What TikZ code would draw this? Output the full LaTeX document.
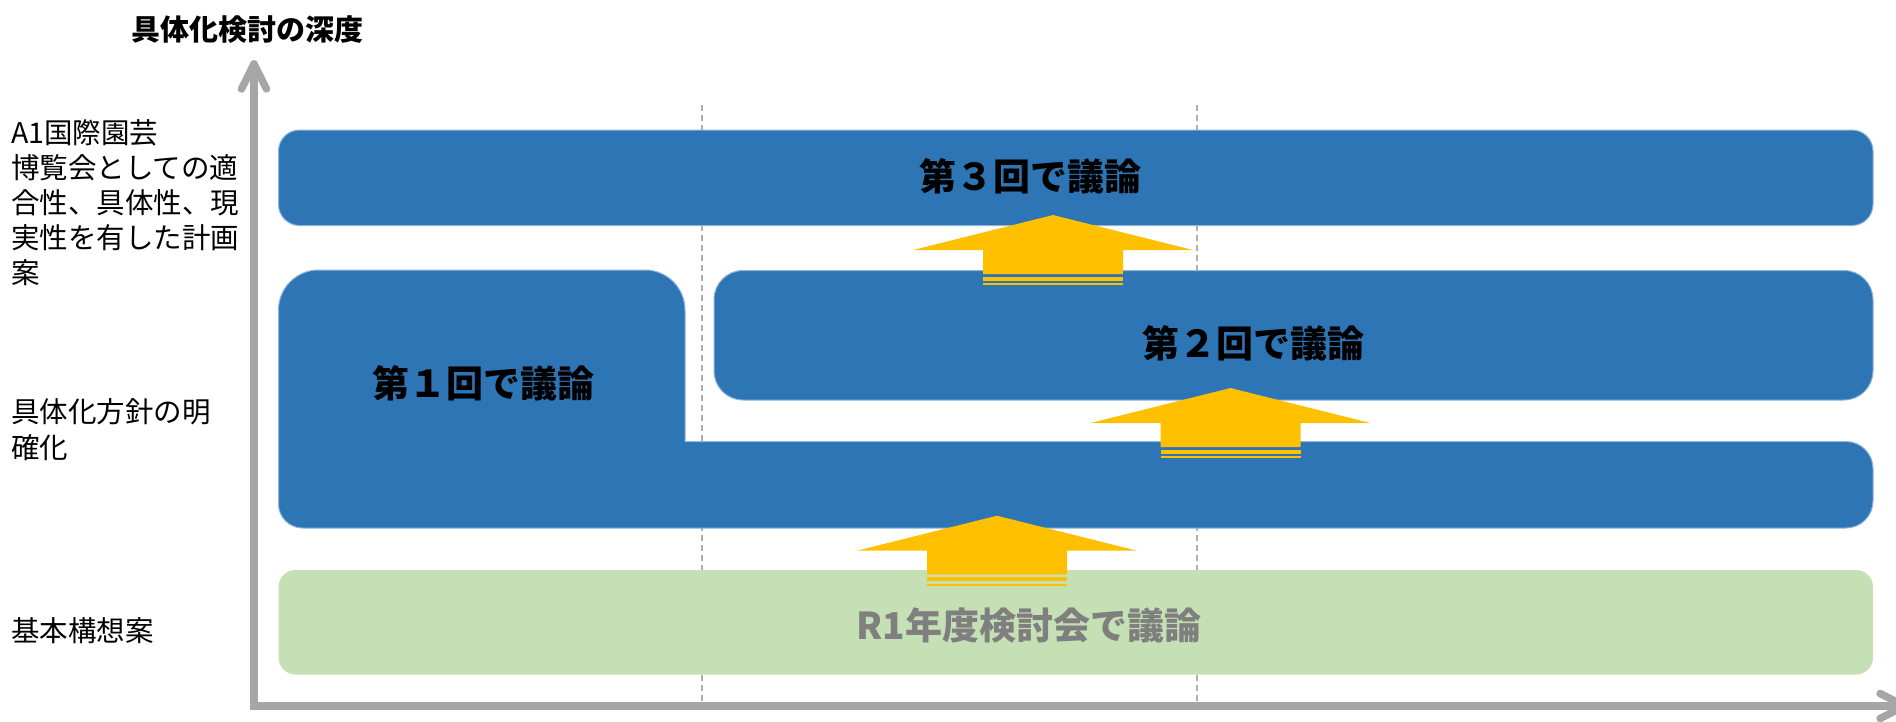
\documentclass[tikz,border=0pt]{standalone}
\usepackage{fontspec}
\setmainfont{Noto Sans CJK JP}
\definecolor{boxblue}{HTML}{2E75B6}
\definecolor{boxedge}{HTML}{8FB4DC}
\definecolor{arrowyellow}{HTML}{FFC000}
\definecolor{basegreen}{HTML}{C5E0B4}
\definecolor{axisgray}{HTML}{A6A6A6}
\definecolor{dashgray}{HTML}{AFAFAF}
\definecolor{textgray}{HTML}{7F7F7F}
\begin{document}
\begin{tikzpicture}[x=1pt,y=-1pt,
  axisline/.style={draw=axisgray,line width=7.5pt},
  guide/.style={draw=dashgray,line width=1.5pt,dash pattern=on 6pt off 4pt},
  bluebox/.style={fill=boxblue,draw=boxedge,line width=1pt,inner sep=0pt},
  greenbox/.style={fill=basegreen,inner sep=0pt,rounded corners=17pt},
  boxlabel/.style={inner sep=0pt,font=\fontsize{37pt}{44pt}\selectfont\bfseries},
  sidelabel/.style={inner sep=0pt,anchor=north west,align=left,font=\fontsize{28.5pt}{35pt}\selectfont},
  uparr/.pic={
    \fill[arrowyellow] (0,-35) -- (140,0) -- (70,0) -- (70,24) -- (-70,24) -- (-70,0) -- (-140,0) -- cycle;
    \fill[arrowyellow] (-70,26.5) rectangle (70,30.5);
    \fill[arrowyellow] (-70,33) rectangle (70,35);
  }]
\useasboundingbox (0,0) rectangle (1896,721);

% guide lines
\coordinate (g1t) at (702,105); \coordinate (g1b) at (702,703);
\coordinate (g2t) at (1197,105); \coordinate (g2b) at (1197,703);
\draw[guide] (g1t) -- (g1b);
\draw[guide] (g2t) -- (g2b);

% axes
\coordinate (ytip) at (254,64);
\coordinate (origin) at (254,706);
\coordinate (xtip) at (1905,706);
\draw[axisline,line join=miter,line cap=round] (ytip) -- (origin) -- (xtip);
\draw[axisline,line cap=round,line join=round] (241.5,89) -- (ytip) -- (266.5,89);
\draw[axisline,line cap=round,line join=round] (1880,693.5) -- (xtip) -- (1880,718.5);

% title and side labels
\node[inner sep=0pt,font=\fontsize{29pt}{35pt}\selectfont\bfseries] (title) at (247.5,29.5) {具体化検討の深度};
\node[sidelabel] (labA) at (11,119) {A1国際園芸\\博覧会としての適\\合性、具体性、現\\実性を有した計画\\案};
\node[sidelabel,font=\fontsize{28.5pt}{36pt}\selectfont] (labB) at (11,398) {具体化方針の明\\確化};
\node[sidelabel] (labC) at (11,617) {基本構想案};

% boxes
\node[bluebox,rounded corners=21pt,minimum width=1594.5pt,minimum height=95.5pt] (box3) at (1075.75,177.75) {};
\node[bluebox,rounded corners=29pt,minimum width=1159pt,minimum height=129.5pt] (box2) at (1293.5,335.25) {};
\draw[fill=boxblue,draw=boxedge,line width=1pt] (278.5,310) arc[start angle=180,end angle=270,radius=40]
  -- (645,270) arc[start angle=270,end angle=360,radius=40]
  -- (685,441.5) -- (1846,441.5) arc[start angle=270,end angle=360,radius=27]
  -- (1873,501) arc[start angle=0,end angle=90,radius=27]
  -- (302.5,528) arc[start angle=90,end angle=180,radius=24] -- cycle;
\coordinate (box1) at (483,383.5);
\node[greenbox,minimum width=1594.5pt,minimum height=104.5pt] (base) at (1075.75,622.25) {};

% labels
\node[boxlabel] (t3) at (1030,176) {第３回で議論};
\node[boxlabel] (t2) at (1253,343.5) {第２回で議論};
\node[boxlabel] (t1) at (box1) {第１回で議論};
\node[boxlabel,text=textgray] (t0) at (1029,625) {R1年度検討会で議論};

% upward arrows
\pic at (997,550.7) {uparr};
\pic at (1230.5,423) {uparr};
\pic at (1053,250) {uparr};
\end{tikzpicture}
\end{document}
